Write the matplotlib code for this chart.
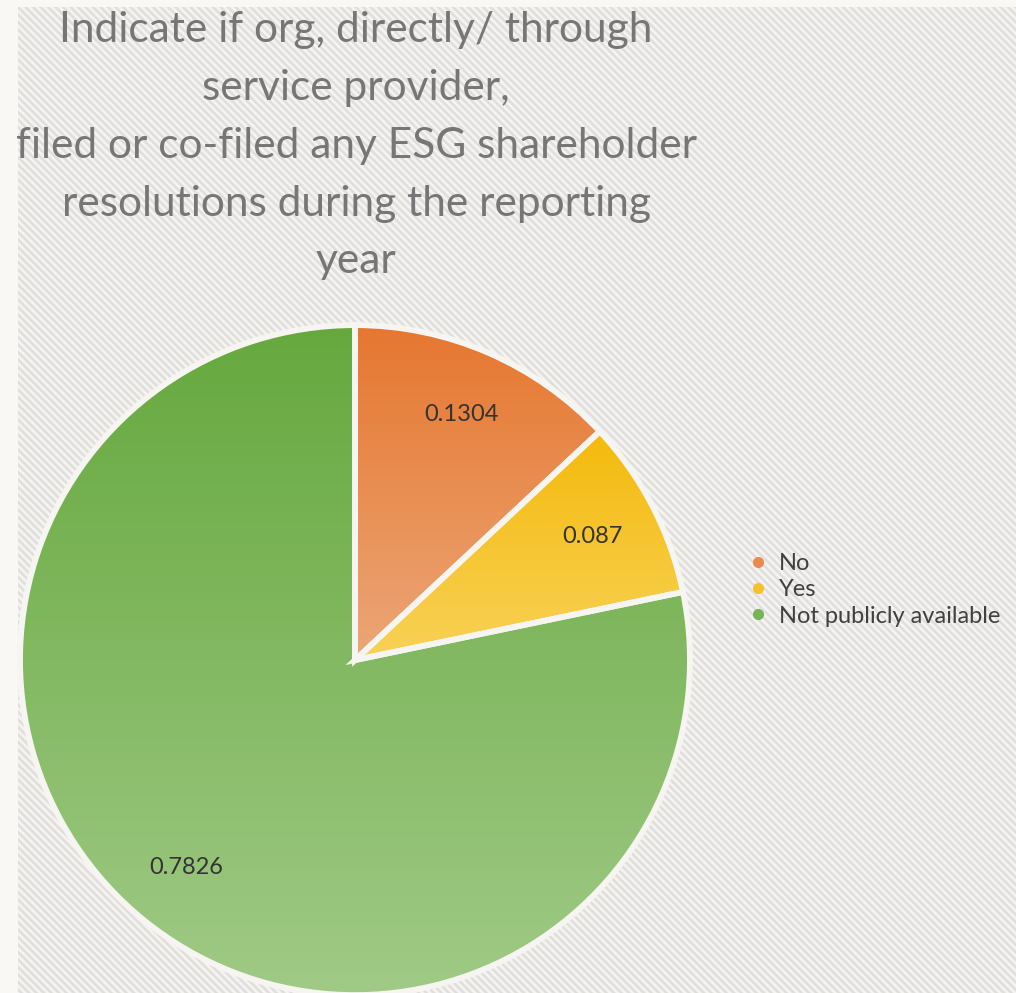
import numpy as np
import matplotlib
matplotlib.use("Agg")
import matplotlib.pyplot as plt
from matplotlib.colors import LinearSegmentedColormap
from matplotlib.lines import Line2D

categories = ["No", "Yes", "Not publicly available"]
shares = [0.1304, 0.087, 0.7826]
value_labels = ["0.1304", "0.087", "0.7826"]
# (top, bottom) gradient colours per slice
slice_colors = [("#e6772f", "#eca677"), ("#f4ba0c", "#f8d157"), ("#66a83e", "#a0ca86")]
legend_colors = ["#ea8a4e", "#f5c22a", "#78b357"]

title = ("Indicate if org, directly/ through\nservice provider,\n"
         "filed or co-filed any ESG shareholder\nresolutions during the reporting\nyear")

plt.rcParams["font.family"] = ["Lato", "DejaVu Sans"]

W, H = 1016, 993
fig = plt.figure(figsize=(W / 100, H / 100), dpi=100, facecolor="#f9f8f5")

# diagonal striped backdrop
bg_ax = fig.add_axes([18 / W, 0, 1 - 18 / W, (H - 7) / H], zorder=-1)
yy, xx = np.mgrid[0:H - 7, 0:W - 18]
stripes = 0.5 + 0.5 * np.cos(2 * np.pi * (xx - yy) / 7.5)
bg_cmap = LinearSegmentedColormap.from_list("bg", ["#f7f6f4", "#dedddA"])
bg_ax.imshow(stripes, cmap=bg_cmap, aspect="auto", interpolation="nearest")
bg_ax.axis("off")

ax = fig.add_axes([0.0197, -0.0021, 0.6594, 0.6747])
ax.patch.set_alpha(0)

wedges, texts = ax.pie(shares, labels=value_labels, startangle=90, counterclock=False,
                       labeldistance=0.8,
                       wedgeprops=dict(edgecolor="#f6f5f1", linewidth=4.2),
                       textprops=dict(fontsize=17, color="#333333"))
for t in texts:
    t.set_ha("center")
    t.set_va("center")
    t.set_zorder(5)

grad = np.linspace(0, 1, 256).reshape(-1, 1)
for w, (top, bottom) in zip(wedges, slice_colors):
    ext = w.get_path().get_extents()
    cmap = LinearSegmentedColormap.from_list("g", [bottom, top])
    im = ax.imshow(grad, cmap=cmap, origin="lower", aspect="auto",
                   extent=(ext.x0, ext.x1, ext.y0, ext.y1), zorder=1)
    im.set_clip_path(w)
    w.set_facecolor("none")
    w.set_zorder(2)

ax.set_xlim(-1, 1)
ax.set_ylim(-1, 1)
ax.set_aspect("auto")
ax.axis("off")

fig.text(356 / W, 1 - 11 / H, title, ha="center", va="top", fontsize=30.5,
         color="#767676", linespacing=1.64)

handles = [Line2D([], [], marker="o", linestyle="none", markersize=7,
                  markerfacecolor=c, markeredgecolor=c) for c in legend_colors]
fig.legend(handles, categories, loc="center left", bbox_to_anchor=(725 / W, 1 - 590 / H),
           frameon=False, fontsize=17, labelcolor="#404040", handletextpad=0.4,
           labelspacing=0.22, handlelength=1.0)

fig.savefig("out.png", dpi=100, facecolor=fig.get_facecolor())
